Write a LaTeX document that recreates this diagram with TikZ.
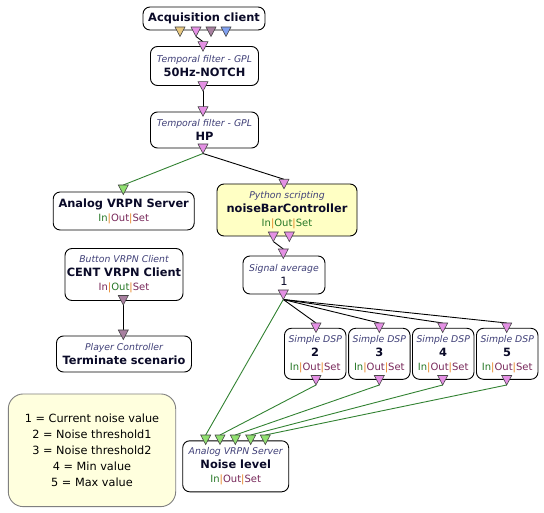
\documentclass[tikz,border=0pt]{standalone}
\usepackage{fontspec}
\setmainfont{DejaVu Sans}
\definecolor{typeC}{RGB}{64,64,120}
\definecolor{nameC}{RGB}{10,10,40}
\definecolor{inC}{RGB}{40,120,40}
\definecolor{outC}{RGB}{120,40,90}
\definecolor{sepC}{RGB}{230,130,30}
\definecolor{pinkP}{RGB}{228,144,228}
\definecolor{greenP}{RGB}{144,224,112}
\definecolor{mauveP}{RGB}{168,128,160}
\definecolor{tanP}{RGB}{232,200,128}
\definecolor{blueP}{RGB}{128,160,240}
\definecolor{portEdge}{RGB}{70,70,70}
\definecolor{wireG}{RGB}{50,130,50}
\definecolor{pyFill}{RGB}{255,255,196}
\definecolor{legFill}{RGB}{255,255,222}
\newcommand\FtType{\fontsize{9.3}{14}\selectfont\itshape\color{typeC}}
\newcommand\FtName{\fontsize{11.4}{14}\selectfont\bfseries\color{nameC}}
\newcommand\FtIO{\fontsize{10}{14}\selectfont}
\newcommand\IOS[3]{{\FtIO\textcolor{#1}{In}\textcolor{sepC}{|}\textcolor{#2}{Out}\textcolor{sepC}{|}\textcolor{#3}{Set}}}
\tikzset{
  box/.style={draw=black, line width=0.9pt, rounded corners=7pt, align=center,
    inner sep=0pt, fill=white, font=\fontsize{10}{14}\selectfont},
  wireK/.style={draw=black, line width=0.9pt},
  wireGr/.style={draw=wireG, line width=0.9pt},
  pics/port/.style={code={\draw[line width=0.6pt, draw=portEdge, fill=#1]
    (-5,0) -- (5,0) -- (0,9.5) -- cycle;}}
}
\begin{document}
\begin{tikzpicture}[x=1pt,y=-1pt]
\useasboundingbox (0,0) rectangle (544,513);
% boxes
\node[box, minimum width=122, minimum height=23] (acq) at (204,18.5) {{\FtName Acquisition client}};
\node[box, minimum width=108, minimum height=39] (notch) at (204.5,66) {{\FtType Temporal filter - GPL}\\{\FtName 50Hz-NOTCH}};
\node[box, minimum width=108, minimum height=36] (hp) at (204.5,130) {{\FtType Temporal filter - GPL}\\{\FtName HP}};
\node[box, minimum width=141, minimum height=38] (analog) at (123.7,211) {{\FtName Analog VRPN Server}\\\IOS{inC}{outC}{outC}};
\node[box, fill=pyFill, minimum width=140, minimum height=52] (nb) at (287,210) {{\FtType Python scripting}\\{\FtName noiseBarController}\\\IOS{inC}{inC}{inC}};
\node[box, minimum width=82, minimum height=38] (avg) at (284,275) {{\FtType Signal average}\\{\FtName\mdseries 1}};
\node[box, minimum width=118, minimum height=52] (cent) at (124,274.5) {{\FtType Button VRPN Client}\\{\FtName CENT VRPN Client}\\\IOS{outC}{inC}{outC}};
\node[box, minimum width=135, minimum height=36] (term) at (124,354) {{\FtType Player Controller}\\{\FtName Terminate scenario}};
\node[box, minimum width=61.5, minimum height=51] (dspa) at (315.2,353.8) {{\FtType Simple DSP}\\{\FtName 2}\\\IOS{inC}{outC}{outC}};
\node[box, minimum width=61.5, minimum height=51] (dspb) at (379.3,353.8) {{\FtType Simple DSP}\\{\FtName 3}\\\IOS{inC}{outC}{outC}};
\node[box, minimum width=61.5, minimum height=51] (dspc) at (443.2,353.8) {{\FtType Simple DSP}\\{\FtName 4}\\\IOS{inC}{outC}{outC}};
\node[box, minimum width=61.5, minimum height=51] (dspd) at (507.2,353.8) {{\FtType Simple DSP}\\{\FtName 5}\\\IOS{inC}{outC}{outC}};
\node[box, minimum width=106, minimum height=51] (noise) at (235.7,466.3) {{\FtType Analog VRPN Server}\\{\FtName Noise level}\\\IOS{inC}{outC}{outC}};
\node[box, draw={rgb,255:red,128;green,128;blue,128}, fill=legFill, rounded corners=15pt,
  minimum width=167.4, minimum height=112.7, font=\fontsize{11.3}{15.8}\selectfont] (legend) at (92,450.3)
  {1 = Current noise value\\2 = Noise threshold1\\3 = Noise threshold2\\4 = Min value\\5 = Max value};
% port coordinates (out = apex, in = top)
\coordinate (acqO) at (196,36.5);
\coordinate (notchI) at (203,41.7);
\coordinate (notchO) at (203,91.2);
\coordinate (hpI) at (203,106.7);
\coordinate (hpO) at (203,153.5);
\coordinate (analogI) at (123.3,185);
\coordinate (nbI) at (284,179.3);
\coordinate (nbO) at (273.3,241.5);
\coordinate (avgI) at (283.3,249);
\coordinate (avgO) at (283.3,299.5);
\coordinate (centO) at (123.3,305);
\coordinate (termI) at (123.3,330);
\coordinate (dspaI) at (316,323);
\coordinate (dspbI) at (379.3,323);
\coordinate (dspcI) at (442.7,323);
\coordinate (dspdI) at (506.7,323);
\coordinate (dspaO) at (316,385);
\coordinate (dspbO) at (379.3,385);
\coordinate (dspcO) at (442.7,385);
\coordinate (dspdO) at (506.7,385);
\coordinate (noiseIa) at (205.7,435);
\coordinate (noiseIb) at (220,435);
\coordinate (noiseIc) at (235.3,435);
\coordinate (noiseId) at (250.7,435);
\coordinate (noiseIe) at (265.3,435);
% connectors
\draw[wireK] (acqO) -- (notchI);
\draw[wireK] (notchO) -- (hpI);
\draw[wireGr] (hpO) -- (analogI);
\draw[wireK] (hpO) -- (nbI);
\draw[wireK] (nbO) -- (avgI);
\draw[wireK] (avgO) -- (dspaI);
\draw[wireK] (avgO) -- (dspbI);
\draw[wireK] (avgO) -- (dspcI);
\draw[wireK] (avgO) -- (dspdI);
\draw[wireGr] (avgO) -- (noiseIa);
\draw[wireGr] (dspaO) -- (noiseIb);
\draw[wireGr] (dspbO) -- (noiseIc);
\draw[wireGr] (dspcO) -- (noiseId);
\draw[wireGr] (dspdO) -- (noiseIe);
\draw[wireK] (centO) -- (termI);
% ports
\pic at (180,27) {port=tanP};
\pic at (196,27) {port=pinkP};
\pic at (211,27) {port=mauveP};
\pic at (226,27) {port=blueP};
\pic at (203,41.7) {port=pinkP};
\pic at (203,81.7) {port=pinkP};
\pic at (203,106.7) {port=pinkP};
\pic at (203,144) {port=pinkP};
\pic at (123.3,185) {port=greenP};
\pic at (284,179.3) {port=pinkP};
\pic at (273.3,232) {port=pinkP};
\pic at (289.3,232) {port=pinkP};
\pic at (283.3,249) {port=pinkP};
\pic at (283.3,290) {port=pinkP};
\pic at (123.3,295.5) {port=mauveP};
\pic at (123.3,330) {port=mauveP};
\foreach \px in {316,379.3,442.7,506.7}{
  \pic at (\px,323) {port=pinkP};
  \pic at (\px,375.5) {port=pinkP};
}
\foreach \px in {205.7,220,235.3,250.7,265.3}{
  \pic at (\px,435) {port=greenP};
}
\end{tikzpicture}
\end{document}
